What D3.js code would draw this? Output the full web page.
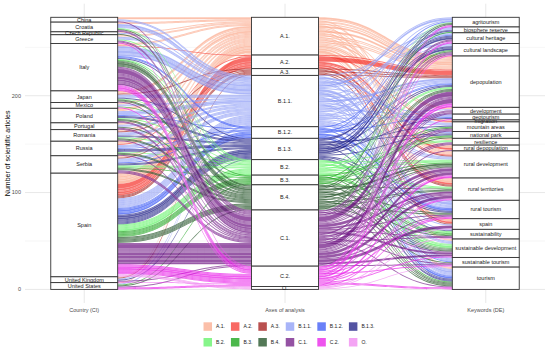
<!DOCTYPE html>
<html>
<head>
<meta charset="utf-8">
<script src="https://cdn.jsdelivr.net/npm/d3@7"></script>
<style>
	body { margin: 0; background: #fff; }
	text { font-family: "Liberation Sans", Arial, sans-serif; }
</style>
</head>
<body>
<svg id="chart" width="550" height="350"></svg>
<script>
// strata of the three axes, top to bottom
var countries = ['China', 'Croatia', 'Czech Republic', 'Greece', 'Italy', 'Japan', 'Mexico', 'Poland',
	'Portugal', 'Romania', 'Russia', 'Serbia', 'Spain', 'United Kingdom', 'United States'];
var axes = ['A.1.', 'A.2.', 'A.3.', 'B.1.1.', 'B.1.2.', 'B.1.3.', 'B.2.', 'B.3.', 'B.4.', 'C.1.', 'C.2.', 'O.'];
var keywords = ['agritourism', 'biosphere reserve', 'cultural heritage', 'cultural landscape', 'depopulation',
	'development', 'geotourism', 'migration', 'mountain areas', 'national park', 'resilience', 'rural depopulation',
	'rural development', 'rural territories', 'rural tourism', 'spain', 'sustainability',
	'sustainable development', 'sustainable tourism', 'tourism'];
var axisColors = ['#faa484', '#f52a22', '#9b0604', '#8394f5', '#2a4af5', '#0a0a7a',
	'#52f158', '#009a00', '#0a400f', '#66087c', '#e70ce7', '#ef7def'];
var axisTitles = ['Country (CI)', 'Axes of analysis', 'Keywords (DE)'];
var yTicks = [0, 100, 200];
var yMinor = [50, 150, 250];

// alluvia: [country, axis of analysis, keyword, number of articles]
var flows = [
	['China', 'A.1.', 'depopulation', 2],
	['Croatia', 'A.1.', 'rural territories', 1],
	['Croatia', 'A.1.', 'depopulation', 1],
	['Czech Republic', 'A.1.', 'depopulation', 1],
	['Greece', 'A.1.', 'rural development', 1],
	['Greece', 'A.1.', 'depopulation', 1],
	['Italy', 'A.1.', 'depopulation', 1],
	['Italy', 'A.1.', 'sustainable development', 1],
	['Japan', 'A.1.', 'depopulation', 2],
	['Japan', 'A.1.', 'resilience', 1],
	['Mexico', 'A.1.', 'rural territories', 1],
	['Mexico', 'A.1.', 'tourism', 1],
	['Poland', 'A.1.', 'depopulation', 2],
	['Poland', 'A.1.', 'rural depopulation', 1],
	['Portugal', 'A.1.', 'rural development', 1],
	['Portugal', 'A.1.', 'development', 1],
	['Romania', 'A.1.', 'depopulation', 1],
	['Romania', 'A.1.', 'rural territories', 1],
	['Russia', 'A.1.', 'depopulation', 1],
	['Russia', 'A.1.', 'migration', 1],
	['Russia', 'A.1.', 'rural development', 1],
	['Serbia', 'A.1.', 'depopulation', 1],
	['Serbia', 'A.1.', 'mountain areas', 1],
	['Spain', 'A.1.', 'depopulation', 1],
	['Spain', 'A.1.', 'rural depopulation', 2],
	['Spain', 'A.1.', 'rural territories', 2],
	['Spain', 'A.1.', 'rural development', 1],
	['Spain', 'A.1.', 'spain', 3],
	['Spain', 'A.1.', 'development', 1],
	['Spain', 'A.1.', 'resilience', 1],
	['United Kingdom', 'A.1.', 'sustainable development', 1],
	['United States', 'A.1.', 'tourism', 1],

	['Italy', 'A.2.', 'depopulation', 1],
	['Russia', 'A.2.', 'migration', 1],
	['Spain', 'A.2.', 'depopulation', 5],
	['Spain', 'A.2.', 'rural depopulation', 2],
	['Spain', 'A.2.', 'rural territories', 2],
	['Spain', 'A.2.', 'spain', 2],
	['Spain', 'A.2.', 'rural development', 1],

	['Japan', 'A.3.', 'depopulation', 1],
	['Romania', 'A.3.', 'rural territories', 1],
	['Serbia', 'A.3.', 'rural development', 1],
	['United Kingdom', 'A.3.', 'depopulation', 1],
	['Spain', 'A.3.', 'depopulation', 1],
	['Spain', 'A.3.', 'rural territories', 1],
	['Spain', 'A.3.', 'spain', 1],

	['China', 'B.1.1.', 'tourism', 1],
	['China', 'B.1.1.', 'cultural heritage', 1],
	['Croatia', 'B.1.1.', 'national park', 2],
	['Croatia', 'B.1.1.', 'tourism', 1],
	['Croatia', 'B.1.1.', 'rural tourism', 1],
	['Czech Republic', 'B.1.1.', 'mountain areas', 1],
	['Greece', 'B.1.1.', 'cultural landscape', 1],
	['Greece', 'B.1.1.', 'rural tourism', 1],
	['Greece', 'B.1.1.', 'agritourism', 1],
	['Italy', 'B.1.1.', 'agritourism', 2],
	['Italy', 'B.1.1.', 'rural tourism', 3],
	['Italy', 'B.1.1.', 'tourism', 2],
	['Italy', 'B.1.1.', 'sustainable tourism', 1],
	['Italy', 'B.1.1.', 'cultural landscape', 1],
	['Italy', 'B.1.1.', 'mountain areas', 1],
	['Japan', 'B.1.1.', 'geotourism', 1],
	['Japan', 'B.1.1.', 'cultural heritage', 1],
	['Japan', 'B.1.1.', 'tourism', 1],
	['Mexico', 'B.1.1.', 'sustainable tourism', 1],
	['Mexico', 'B.1.1.', 'rural tourism', 1],
	['Poland', 'B.1.1.', 'depopulation', 2],
	['Poland', 'B.1.1.', 'rural development', 1],
	['Poland', 'B.1.1.', 'biosphere reserve', 1],
	['Portugal', 'B.1.1.', 'sustainable development', 1],
	['Portugal', 'B.1.1.', 'tourism', 1],
	['Romania', 'B.1.1.', 'mountain areas', 1],
	['Romania', 'B.1.1.', 'biosphere reserve', 1],
	['Romania', 'B.1.1.', 'depopulation', 1],
	['Russia', 'B.1.1.', 'depopulation', 1],
	['Russia', 'B.1.1.', 'rural development', 1],
	['Russia', 'B.1.1.', 'geotourism', 1],
	['Serbia', 'B.1.1.', 'sustainable development', 1],
	['Serbia', 'B.1.1.', 'rural tourism', 1],
	['Serbia', 'B.1.1.', 'sustainable tourism', 1],
	['Serbia', 'B.1.1.', 'agritourism', 1],
	['Spain', 'B.1.1.', 'tourism', 1],
	['Spain', 'B.1.1.', 'rural tourism', 1],
	['Spain', 'B.1.1.', 'sustainable tourism', 1],
	['Spain', 'B.1.1.', 'geotourism', 1],
	['Spain', 'B.1.1.', 'cultural landscape', 1],
	['Spain', 'B.1.1.', 'biosphere reserve', 1],
	['Spain', 'B.1.1.', 'sustainable development', 1],
	['Spain', 'B.1.1.', 'rural development', 1],
	['Spain', 'B.1.1.', 'depopulation', 1],
	['Spain', 'B.1.1.', 'spain', 1],
	['United Kingdom', 'B.1.1.', 'sustainability', 1],
	['United States', 'B.1.1.', 'development', 1],

	['Italy', 'B.1.2.', 'rural tourism', 1],
	['Italy', 'B.1.2.', 'cultural heritage', 1],
	['Poland', 'B.1.2.', 'tourism', 1],
	['Russia', 'B.1.2.', 'depopulation', 1],
	['Serbia', 'B.1.2.', 'geotourism', 1],
	['Spain', 'B.1.2.', 'tourism', 2],
	['Spain', 'B.1.2.', 'rural tourism', 2],
	['Spain', 'B.1.2.', 'agritourism', 1],
	['Spain', 'B.1.2.', 'sustainable tourism', 1],
	['Spain', 'B.1.2.', 'depopulation', 1],

	['Italy', 'B.1.3.', 'cultural landscape', 1],
	['Japan', 'B.1.3.', 'cultural heritage', 1],
	['Poland', 'B.1.3.', 'biosphere reserve', 1],
	['Poland', 'B.1.3.', 'national park', 1],
	['Romania', 'B.1.3.', 'mountain areas', 1],
	['Romania', 'B.1.3.', 'rural tourism', 1],
	['Russia', 'B.1.3.', 'cultural heritage', 1],
	['Russia', 'B.1.3.', 'depopulation', 1],
	['Russia', 'B.1.3.', 'tourism', 1],
	['Serbia', 'B.1.3.', 'cultural landscape', 1],
	['Serbia', 'B.1.3.', 'geotourism', 1],
	['United Kingdom', 'B.1.3.', 'tourism', 1],
	['Spain', 'B.1.3.', 'cultural heritage', 2],
	['Spain', 'B.1.3.', 'cultural landscape', 2],
	['Spain', 'B.1.3.', 'biosphere reserve', 1],
	['Spain', 'B.1.3.', 'national park', 1],
	['Spain', 'B.1.3.', 'tourism', 1],
	['Spain', 'B.1.3.', 'rural tourism', 1],
	['Spain', 'B.1.3.', 'depopulation', 1],
	['Spain', 'B.1.3.', 'sustainability', 1],

	['Croatia', 'B.2.', 'sustainable development', 1],
	['Greece', 'B.2.', 'sustainability', 1],
	['Italy', 'B.2.', 'rural development', 1],
	['Japan', 'B.2.', 'resilience', 1],
	['Poland', 'B.2.', 'sustainable development', 1],
	['Romania', 'B.2.', 'rural territories', 1],
	['Russia', 'B.2.', 'depopulation', 1],
	['Serbia', 'B.2.', 'rural development', 1],
	['Serbia', 'B.2.', 'agritourism', 1],
	['Spain', 'B.2.', 'sustainable development', 2],
	['Spain', 'B.2.', 'rural development', 1],
	['Spain', 'B.2.', 'sustainability', 1],
	['Spain', 'B.2.', 'rural territories', 1],
	['Spain', 'B.2.', 'depopulation', 1],
	['Spain', 'B.2.', 'resilience', 1],

	['Italy', 'B.3.', 'national park', 1],
	['Mexico', 'B.3.', 'tourism', 1],
	['Serbia', 'B.3.', 'sustainability', 1],
	['United States', 'B.3.', 'biosphere reserve', 1],
	['Spain', 'B.3.', 'sustainability', 1],
	['Spain', 'B.3.', 'sustainable development', 1],
	['Spain', 'B.3.', 'national park', 1],
	['Spain', 'B.3.', 'rural development', 1],
	['Spain', 'B.3.', 'mountain areas', 1],
	['Spain', 'B.3.', 'cultural landscape', 1],

	['Croatia', 'B.4.', 'tourism', 1],
	['Czech Republic', 'B.4.', 'rural territories', 1],
	['Italy', 'B.4.', 'rural development', 2],
	['Italy', 'B.4.', 'sustainable development', 1],
	['Italy', 'B.4.', 'agritourism', 1],
	['Italy', 'B.4.', 'tourism', 1],
	['Italy', 'B.4.', 'cultural landscape', 1],
	['Japan', 'B.4.', 'rural tourism', 1],
	['Japan', 'B.4.', 'depopulation', 1],
	['Poland', 'B.4.', 'sustainable tourism', 1],
	['Poland', 'B.4.', 'rural development', 1],
	['Portugal', 'B.4.', 'mountain areas', 1],
	['Romania', 'B.4.', 'sustainable development', 1],
	['Romania', 'B.4.', 'depopulation', 1],
	['Russia', 'B.4.', 'national park', 1],
	['Russia', 'B.4.', 'tourism', 1],
	['Serbia', 'B.4.', 'rural territories', 1],
	['Serbia', 'B.4.', 'sustainability', 1],
	['United States', 'B.4.', 'agritourism', 1],
	['Spain', 'B.4.', 'rural development', 1],
	['Spain', 'B.4.', 'tourism', 1],
	['Spain', 'B.4.', 'sustainable development', 1],
	['Spain', 'B.4.', 'rural territories', 1],
	['Spain', 'B.4.', 'rural tourism', 1],
	['Spain', 'B.4.', 'depopulation', 1],

	['China', 'C.1.', 'rural development', 1],
	['Croatia', 'C.1.', 'cultural landscape', 1],
	['Croatia', 'C.1.', 'sustainable development', 1],
	['Greece', 'C.1.', 'cultural heritage', 1],
	['Greece', 'C.1.', 'mountain areas', 1],
	['Italy', 'C.1.', 'depopulation', 5],
	['Italy', 'C.1.', 'rural development', 3],
	['Italy', 'C.1.', 'rural territories', 2],
	['Italy', 'C.1.', 'sustainable development', 2],
	['Italy', 'C.1.', 'resilience', 1],
	['Italy', 'C.1.', 'cultural landscape', 1],
	['Italy', 'C.1.', 'cultural heritage', 1],
	['Italy', 'C.1.', 'mountain areas', 1],
	['Italy', 'C.1.', 'sustainability', 1],
	['Italy', 'C.1.', 'development', 1],
	['Italy', 'C.1.', 'rural tourism', 1],
	['Japan', 'C.1.', 'development', 1],
	['Poland', 'C.1.', 'rural territories', 1],
	['Poland', 'C.1.', 'depopulation', 1],
	['Portugal', 'C.1.', 'rural development', 1],
	['Portugal', 'C.1.', 'resilience', 1],
	['Romania', 'C.1.', 'sustainable tourism', 1],
	['Russia', 'C.1.', 'rural territories', 1],
	['Serbia', 'C.1.', 'depopulation', 1],
	['Serbia', 'C.1.', 'sustainability', 1],
	['Serbia', 'C.1.', 'tourism', 1],
	['United Kingdom', 'C.1.', 'development', 1],
	['United States', 'C.1.', 'sustainable tourism', 1],
	['Spain', 'C.1.', 'depopulation', 5],
	['Spain', 'C.1.', 'rural development', 3],
	['Spain', 'C.1.', 'rural territories', 3],
	['Spain', 'C.1.', 'sustainable development', 2],
	['Spain', 'C.1.', 'resilience', 1],
	['Spain', 'C.1.', 'cultural landscape', 1],
	['Spain', 'C.1.', 'mountain areas', 1],
	['Spain', 'C.1.', 'spain', 3],
	['Spain', 'C.1.', 'development', 1],
	['Spain', 'C.1.', 'rural tourism', 1],
	['Spain', 'C.1.', 'rural depopulation', 1],

	['Greece', 'C.2.', 'geotourism', 1],
	['Italy', 'C.2.', 'depopulation', 2],
	['Italy', 'C.2.', 'rural development', 1],
	['Italy', 'C.2.', 'agritourism', 1],
	['Italy', 'C.2.', 'cultural heritage', 1],
	['Italy', 'C.2.', 'rural tourism', 1],
	['Mexico', 'C.2.', 'sustainable tourism', 1],
	['United Kingdom', 'C.2.', 'tourism', 1],
	['United States', 'C.2.', 'agritourism', 1],
	['United States', 'C.2.', 'rural territories', 1],
	['Spain', 'C.2.', 'depopulation', 2],
	['Spain', 'C.2.', 'rural development', 2],
	['Spain', 'C.2.', 'rural territories', 1],
	['Spain', 'C.2.', 'tourism', 1],
	['Spain', 'C.2.', 'rural tourism', 1],
	['Spain', 'C.2.', 'cultural landscape', 1],
	['Spain', 'C.2.', 'cultural heritage', 1],
	['Spain', 'C.2.', 'sustainable development', 1],

	['Spain', 'O.', 'spain', 1],
	['Spain', 'O.', 'sustainability', 1],
	['Spain', 'O.', 'sustainable tourism', 1]
];

var svg = d3.select('#chart');
var total = d3.sum(flows, function(d) { return d[3]; });
var levels = [countries, axes, keywords];

// scales: axes sit at 1, 2, 3
var x = d3.scaleLinear().domain([0.705, 3.295]).range([25, 545]);
var y = d3.scaleLinear().domain([-0.05 * total, 1.05 * total]).range([303, 3.7]);
var stratumW = (x(2) - x(1)) / 3;
var color = d3.scaleOrdinal().domain(axes).range(axisColors);

// grid (theme_minimal look)
var grid = svg.append('g');
grid.selectAll('.minor').data(yMinor).enter().append('line')
	.attr('x1', 25).attr('x2', 545)
	.attr('y1', function(d) { return y(d); }).attr('y2', function(d) { return y(d); })
	.attr('stroke', '#ededed').attr('stroke-width', 0.5);
grid.selectAll('.major').data(yTicks).enter().append('line')
	.attr('x1', 25).attr('x2', 545)
	.attr('y1', function(d) { return y(d); }).attr('y2', function(d) { return y(d); })
	.attr('stroke', '#e8e8e8').attr('stroke-width', 1);
grid.selectAll('.vert').data([1, 2, 3]).enter().append('line')
	.attr('x1', function(d) { return x(d); }).attr('x2', function(d) { return x(d); })
	.attr('y1', 3.7).attr('y2', 303)
	.attr('stroke', '#e8e8e8').attr('stroke-width', 1);

// lode positions: order strata top-down, lodes by zigzag of the other axes
var lodes = flows.map(function(f) { return { keys: [f[0], f[1], f[2]], n: f[3], pos: [] }; });
var orders = [[0, 1, 2], [1, 0, 2], [2, 1, 0]];
orders.forEach(function(ord, i) {
	var sorted = lodes.slice().sort(function(a, b) {
		for (var k = 0; k < ord.length; k++) {
			var v = ord[k];
			var diff = levels[v].indexOf(a.keys[v]) - levels[v].indexOf(b.keys[v]);
			if (diff) return diff;
		}
		return 0;
	});
	var cum = total;
	sorted.forEach(function(l) { l.pos[i] = [cum, cum - l.n]; cum -= l.n; });
});

// alluvia
function ribbon(l, i) {
	var xa = x(i + 1) + stratumW / 2, xb = x(i + 2) - stratumW / 2, xm = (xa + xb) / 2;
	var a0 = y(l.pos[i][0]), a1 = y(l.pos[i][1]), b0 = y(l.pos[i + 1][0]), b1 = y(l.pos[i + 1][1]);
	return 'M' + (xa - stratumW / 2) + ',' + a0 + 'L' + xa + ',' + a0 +
		'C' + xm + ',' + a0 + ' ' + xm + ',' + b0 + ' ' + xb + ',' + b0 +
		'L' + (xb + stratumW / 2) + ',' + b0 + 'L' + (xb + stratumW / 2) + ',' + b1 + 'L' + xb + ',' + b1 +
		'C' + xm + ',' + b1 + ' ' + xm + ',' + a1 + ' ' + xa + ',' + a1 +
		'L' + (xa - stratumW / 2) + ',' + a1 + 'Z';
}
var flowG = svg.append('g');
[0, 1].forEach(function(i) {
	flowG.selectAll('.flow' + i).data(lodes).enter().append('path')
		.attr('d', function(l) { return ribbon(l, i); })
		.attr('fill', function(l) { return color(l.keys[1]); })
		.attr('fill-opacity', 0.68)
		.attr('stroke', '#fff')
		.attr('stroke-opacity', 0.45)
		.attr('stroke-width', 0.25);
});

// strata
levels.forEach(function(lv, i) {
	var sums = d3.rollup(lodes, function(v) { return d3.sum(v, function(d) { return d.n; }); }, function(d) { return d.keys[i]; });
	var cum = total;
	var strata = lv.filter(function(s) { return sums.get(s); }).map(function(s) {
		var s0 = cum; cum -= sums.get(s);
		return { name: s, top: s0, bottom: cum };
	});
	var g = svg.append('g');
	g.selectAll('rect').data(strata).enter().append('rect')
		.attr('x', x(i + 1) - stratumW / 2)
		.attr('width', stratumW)
		.attr('y', function(d) { return y(d.top); })
		.attr('height', function(d) { return y(d.bottom) - y(d.top); })
		.attr('fill', '#fff')
		.attr('stroke', '#333')
		.attr('stroke-width', 0.9);
	g.selectAll('text').data(strata).enter().append('text')
		.attr('x', x(i + 1))
		.attr('y', function(d) { return (y(d.top) + y(d.bottom)) / 2; })
		.attr('dy', '0.35em')
		.attr('text-anchor', 'middle')
		.attr('font-size', 5.5)
		.attr('fill', '#1a1a1a')
		.text(function(d) { return d.name; });
});

// y axis
svg.selectAll('.ytick').data(yTicks).enter().append('text')
	.attr('x', 21).attr('y', function(d) { return y(d); })
	.attr('dy', '0.35em').attr('text-anchor', 'end')
	.attr('font-size', 5.5).attr('fill', '#4d4d4d')
	.text(function(d) { return d; });
svg.append('text')
	.attr('transform', 'translate(9.5,' + ((y.range()[0] + y.range()[1]) / 2) + ') rotate(-90)')
	.attr('text-anchor', 'middle')
	.attr('font-size', 7).attr('fill', '#000')
	.text('Number of scientific articles');

// x axis labels
svg.selectAll('.xtick').data(axisTitles).enter().append('text')
	.attr('x', function(d, i) { return x(i + 1); }).attr('y', 312)
	.attr('text-anchor', 'middle')
	.attr('font-size', 5.5).attr('fill', '#4d4d4d')
	.text(function(d) { return d; });

// legend, 6 columns filled by row
var nCol = 6, sw = 8.5, rowY = [322.3, 338];
var legend = svg.append('g');
var colW = [];
for (var c = 0; c < nCol; c++) {
	var wMax = 0;
	[axes[c], axes[c + nCol]].forEach(function(t) {
		var tmp = legend.append('text').attr('font-size', 5).text(t);
		wMax = Math.max(wMax, tmp.node().getComputedTextLength());
		tmp.remove();
	});
	colW.push(sw + 4 + wMax + 6);
}
var legW = d3.sum(colW) - 6;
var colX = [];
var cx = 289 - legW / 2;
colW.forEach(function(w) { colX.push(cx); cx += w; });
axes.forEach(function(a, k) {
	var col = k % nCol, row = Math.floor(k / nCol);
	legend.append('rect')
		.attr('x', colX[col]).attr('y', rowY[row])
		.attr('width', sw).attr('height', sw)
		.attr('fill', color(a)).attr('fill-opacity', 0.7);
	legend.append('text')
		.attr('x', colX[col] + sw + 4).attr('y', rowY[row] + sw / 2)
		.attr('dy', '0.35em')
		.attr('font-size', 5).attr('fill', '#1a1a1a')
		.text(a);
});
</script>
</body>
</html>
